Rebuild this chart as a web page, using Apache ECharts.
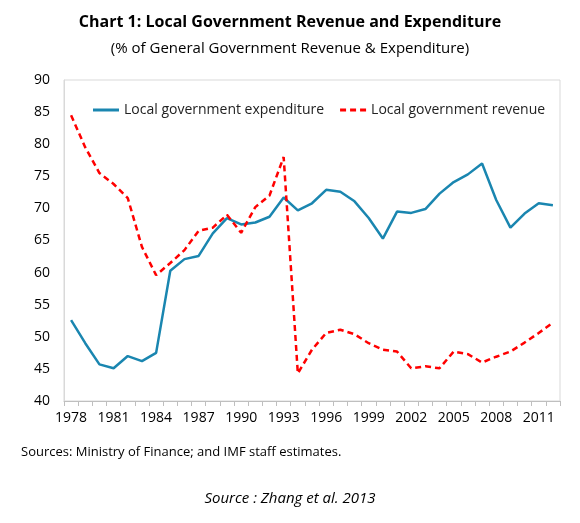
<!DOCTYPE html><html><head><meta charset="utf-8">
<script src="https://cdn.jsdelivr.net/npm/echarts@6/dist/echarts.min.js"></script>
<style>html,body{margin:0;background:#fff}#c{width:580px;height:523px}</style></head><body><div id="c"></div>
<script>
const years=[];for(let y=1978;y<=2012;y++)years.push(String(y));
const expenditure=[52.6,49,45.7,45.1,47,46.2,47.5,60.3,62.1,62.6,66.1,68.5,67.5,67.8,68.7,71.7,69.7,70.8,72.9,72.6,71.1,68.5,65.3,69.5,69.3,69.9,72.3,74.1,75.3,77.0,71.3,67.0,69.2,70.8,70.5];
const revenue=[84.5,79.5,75.5,73.8,71.6,64,59.6,61.5,63.5,66.5,67,69,66.2,70.2,72,78,44.3,48,50.6,51.1,50.4,49,48,47.7,45.1,45.4,45.1,47.7,47.3,46,46.9,47.7,49.1,50.6,52.2];
const ch=echarts.init(document.getElementById('c'));
const F='"Open Sans", sans-serif';
ch.setOption({
 animation:false,
 title:[{text:'Chart 1: Local Government Revenue and Expenditure',left:'center',top:9,textStyle:{fontFamily:F,fontSize:16,fontWeight:'bold',color:'#000'}},
  {text:'(% of General Government Revenue & Expenditure)',left:'center',top:36,textStyle:{fontFamily:F,fontSize:15,fontWeight:'normal',color:'#000'}},
  {text:'Sources: Ministry of Finance; and IMF staff estimates.',left:16,top:441,textStyle:{fontFamily:F,fontSize:13,fontWeight:'normal',color:'#000'}},
  {text:'Source : Zhang et al. 2013',left:'center',top:486,textStyle:{fontFamily:F,fontSize:15,fontStyle:'italic',fontWeight:'normal',color:'#000'}}],
 legend:{top:98,left:88,itemGap:16,itemWidth:26,itemHeight:3,textStyle:{fontFamily:F,fontSize:14,color:'#222'},
  data:[{name:'Local government expenditure',icon:'rect'},{name:'Local government revenue',icon:'path://M0,0h6v3h-6zM10,0h6v3h-6zM20,0h6v3h-6z'}]},
 grid:{left:64,right:20,top:80,bottom:122,show:true,borderColor:'#d9d9d9',borderWidth:1},
 xAxis:{type:'category',data:years,boundaryGap:true,axisLine:{lineStyle:{color:'#bfbfbf'}},axisTick:{show:true,interval:0,alignWithLabel:false,lineStyle:{color:'#bfbfbf'}},
  axisLabel:{interval:2,fontFamily:F,fontSize:14,color:'#000',margin:10}},
 yAxis:{type:'value',min:40,max:90,interval:5,splitLine:{show:false},axisLine:{show:true,lineStyle:{color:'#d9d9d9'}},axisTick:{show:false},
  axisLabel:{fontFamily:F,fontSize:14,color:'#000',margin:14}},
 series:[{name:'Local government expenditure',type:'line',data:expenditure,symbol:'none',lineStyle:{color:'#1a86b0',width:2.5},itemStyle:{color:'#1a86b0'}},
  {name:'Local government revenue',type:'line',data:revenue,symbol:'none',lineStyle:{color:'#ff0000',width:2.5,type:[6,4]},itemStyle:{color:'#ff0000'}}]
});
</script></body></html>
